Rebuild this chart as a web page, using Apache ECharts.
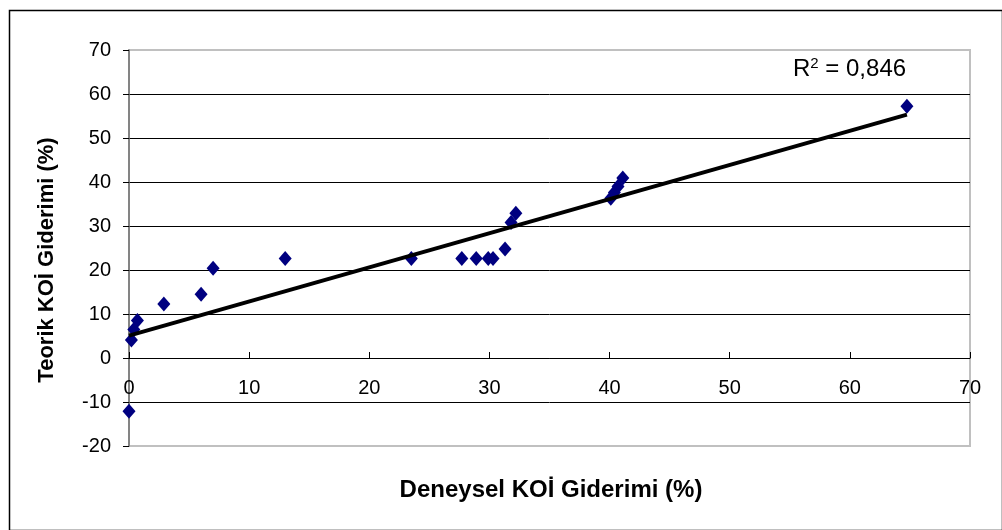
<!DOCTYPE html>
<html>
<head>
<meta charset="utf-8">
<script src="https://cdn.jsdelivr.net/npm/echarts@6/dist/echarts.min.js"></script>
<style>
  html, body { margin: 0; padding: 0; background: #fff; }
  #chart { width: 1002px; height: 530px; }
</style>
</head>
<body>
<div id="chart"></div>
<script>
// Experimental vs. theoretical COD removal (%)
const deneysel = [0.0, 0.2, 0.4, 0.7, 2.9, 6.0, 7.0, 13.0, 23.5, 27.7, 28.9, 29.9, 30.3, 31.3, 31.8, 32.2, 40.1, 40.4, 40.7, 41.1, 64.75];
const teorik   = [-12.1, 4.1, 6.5, 8.5, 12.3, 14.5, 20.4, 22.6, 22.6, 22.6, 22.6, 22.6, 22.6, 24.8, 30.8, 32.9, 36.3, 37.6, 39.0, 40.9, 57.2];
const xTicks = [0, 10, 20, 30, 40, 50, 60, 70];
const yTicks = [-20, -10, 0, 10, 20, 30, 40, 50, 60, 70];
const r2Text = '0,846';

// least-squares trendline over the points
const n = deneysel.length;
const mx = deneysel.reduce((a, b) => a + b, 0) / n;
const my = teorik.reduce((a, b) => a + b, 0) / n;
let sxy = 0, sxx = 0;
for (let i = 0; i < n; i++) {
  sxy += (deneysel[i] - mx) * (teorik[i] - my);
  sxx += (deneysel[i] - mx) * (deneysel[i] - mx);
}
const slope = sxy / sxx;
const intercept = my - slope * mx;
const xMin = Math.min(...deneysel), xMax = Math.max(...deneysel);
const trend = [[xMin, intercept + slope * xMin], [xMax, intercept + slope * xMax]];

const points = deneysel.map((x, i) => [x, teorik[i]]);
const FONT = 'Liberation Sans, Arial, sans-serif';

// plot box in pixels
const PLOT = { left: 129, right: 32, top: 50, bottom: 84 };
const plotH = 530 - PLOT.top - PLOT.bottom;
const yMin = yTicks[0], yMax = yTicks[yTicks.length - 1];
// x axis crosses the y axis at zero
const zeroOffset = -plotH * (0 - yMin) / (yMax - yMin);

const chart = echarts.init(document.getElementById('chart'), null, { renderer: 'canvas' });
chart.setOption({
  backgroundColor: '#fff',
  animation: false,
  grid: {
    left: PLOT.left, right: PLOT.right, top: PLOT.top, bottom: PLOT.bottom,
    show: true, borderColor: '#c0c0c0', borderWidth: 2
  },
  xAxis: {
    type: 'value',
    position: 'bottom',
    offset: zeroOffset,
    min: xTicks[0], max: xTicks[xTicks.length - 1], interval: 10,
    axisLine: { onZero: false, lineStyle: { color: '#000', width: 1 } },
    axisTick: { show: true, inside: true, length: 6, lineStyle: { color: '#000' } },
    axisLabel: { margin: 20, color: '#000', fontSize: 20, fontFamily: FONT },
    splitLine: { show: false }
  },
  yAxis: {
    type: 'value',
    min: yMin, max: yMax, interval: 10,
    axisLine: { show: true, onZero: false, lineStyle: { color: '#707070', width: 1.5 } },
    axisTick: { show: true, length: 6, lineStyle: { color: '#000' } },
    axisLabel: { margin: 18, color: '#000', fontSize: 20, fontFamily: FONT },
    splitLine: { show: true, showMinLine: false, showMaxLine: false, lineStyle: { color: '#000', width: 1 } }
  },
  series: [
    {
      type: 'scatter',
      data: points,
      symbol: 'diamond',
      symbolSize: [13, 15],
      itemStyle: { color: '#000080', opacity: 1 },
      z: 2
    },
    {
      type: 'line',
      data: trend,
      showSymbol: false,
      symbol: 'none',
      lineStyle: { color: '#000', width: 4 },
      z: 3
    }
  ],
  graphic: [
    {
      type: 'rect', left: 7, top: 8, z: -1,
      shape: { width: 993, height: 520 },
      style: { fill: 'none', stroke: '#000', lineWidth: 1.5 }
    },
    {
      type: 'text', z: 10,
      x: 47, y: 260, rotation: Math.PI / 2,
      style: { text: 'Teorik KOİ Giderimi (%)', font: 'bold 22px ' + FONT, fill: '#000', align: 'center', verticalAlign: 'middle' }
    },
    {
      type: 'text', z: 10,
      x: 551, y: 490,
      style: { text: 'Deneysel KOİ Giderimi (%)', font: 'bold 24px ' + FONT, fill: '#000', align: 'center', verticalAlign: 'middle' }
    },
    {
      type: 'text', z: 10,
      x: 793, y: 69,
      style: {
        text: '{r|R}{s|2}{r| = ' + r2Text + '}',
        verticalAlign: 'middle',
        rich: {
          r: { fontSize: 24, fontFamily: FONT, color: '#000' },
          s: { fontSize: 15, fontFamily: FONT, color: '#000', verticalAlign: 'top', padding: [0, 0, 10, 0] }
        }
      }
    }
  ]
});
</script>
</body>
</html>
